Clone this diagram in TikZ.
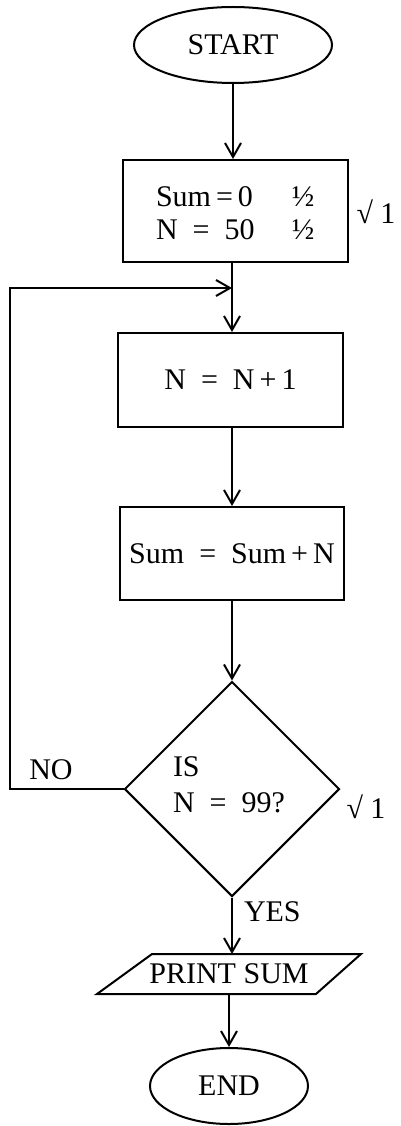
\documentclass[tikz,border=0pt]{standalone}
\usepackage{fontspec}
\setmainfont{Liberation Serif}
\usetikzlibrary{shapes.geometric,arrows.meta}
\begin{document}
\begin{tikzpicture}[x=1pt,y=-1pt,
  line width=2pt,
  every node/.style={font=\fontsize{30}{33}\selectfont, inner sep=0pt},
  flow/.style={-{Straight Barb[length=14pt,width=16pt,line width=2pt]}},
  term/.style={draw, ellipse},
  proc/.style={draw, rectangle},
  txt/.style={anchor=west}]
\useasboundingbox (0,0) rectangle (400,1126);
% nodes
\node[term, minimum width=198pt, minimum height=76pt] (start) at (233,45) {START};
\node[proc, minimum width=225pt, minimum height=102pt] (init) at (235.5,211) {};
\node[txt] (s0) at (155,197) {Sum\,=\,0};
\node[txt] (n50) at (155,230) {N~ = ~50};
\node (h1) at (303,197) {½};
\node (h2) at (303,230) {½};
\node (t1) at (376,212) {√ 1};
\node[proc, minimum width=225pt, minimum height=94pt] (inc) at (230.5,380) {N~ = ~N\,+\,1};
\node[proc, minimum width=224pt, minimum height=93pt] (add) at (232,553.5) {Sum~ = ~Sum\,+\,N};
\node[draw, diamond, minimum width=215pt, minimum height=215pt] (dec) at (232,789) {};
\node[txt] (is) at (172,767) {IS};
\node[txt] (q) at (172,803) {N~ = ~99?};
\node (t2) at (366,807) {√ 1};
\node (no) at (51,770) {NO};
\node[txt] (yes) at (243,912) {YES};
\node[minimum width=170pt, minimum height=38pt] (print) at (229,974) {PRINT SUM};
\draw ([xshift=-46pt]print.south west) -- ([xshift=9pt]print.north west) -- ([xshift=46pt]print.north east) -- ([xshift=1pt]print.south east) -- cycle;
\node[term, minimum width=158pt, minimum height=76pt] (end) at (229,1086) {END};
% loop coordinates
\coordinate (j) at (232,288);
\coordinate (l2) at (10,288);
% connectors
\draw[flow] (start.south) -- (start.south |- init.north);
\draw[flow] (init.south -| j) -- (j |- inc.north);
\draw[flow] (inc.south -| j) -- (j |- add.north);
\draw[flow] (add.south -| j) -- (dec.north);
\draw[flow] (dec.west) -| (l2) -- (j);
\draw[flow] (dec.south) -- (dec.south |- print.north);
\draw[flow] (print.south) -- (end.north);
\end{tikzpicture}
\end{document}
